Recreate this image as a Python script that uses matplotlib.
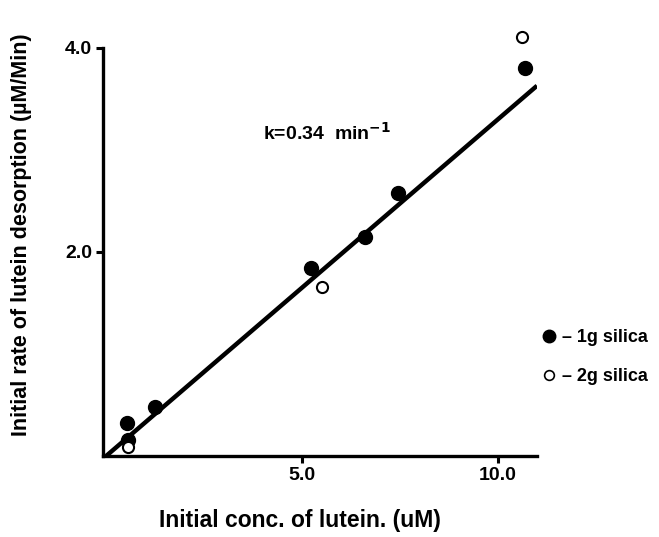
import matplotlib
matplotlib.use("Agg")
import matplotlib.pyplot as plt
import numpy as np
from matplotlib.lines import Line2D

plt.rcParams['font.family'] = ['Liberation Sans', 'DejaVu Sans']
plt.rcParams['font.weight'] = 'bold'

# data
x_1g = [0.54, 0.56, 1.25, 5.23, 6.61, 7.45, 10.69]
y_1g = [0.32, 0.16, 0.48, 1.84, 2.15, 2.58, 3.80]
x_2g = [0.56, 5.51, 10.61]
y_2g = [0.09, 1.66, 4.11]
fit_x = [0.0, 11.0]
k = 0.33
xticks = [5.0, 10.0]
yticks = [2.0, 4.0]

W, H = 659, 537
fig = plt.figure(figsize=(W/100, H/100), dpi=100)
AX_L, AX_R, AX_T, AX_B = 103, 537, 48, 456
ax = fig.add_axes([AX_L/W, 1-AX_B/H, (AX_R-AX_L)/W, (AX_B-AX_T)/H])

fx = np.array(fit_x)
ax.plot(fx, k*fx, color='black', lw=3.2, solid_capstyle='butt', zorder=2)
ax.plot(x_1g, y_1g, 'o', color='black', ms=10, zorder=3, clip_on=False)
ax.plot(x_2g, y_2g, 'o', mfc='white', mec='black', mew=1.5, ms=8, zorder=4, clip_on=False)

ax.set_xlim(-0.08, 11.0)
ax.set_ylim(0, 4.0)
ax.set_xticks(xticks)
ax.set_xticklabels([f"{v:.1f}" for v in xticks])
ax.set_yticks(yticks)
ax.set_yticklabels([f"{v:.1f}" for v in yticks])
for s in ['top', 'right']:
    ax.spines[s].set_visible(False)
for s in ['left', 'bottom']:
    ax.spines[s].set_linewidth(2.4)
ax.tick_params(direction='out', length=5, width=2.2, labelsize=14, pad=3)

ax.text(4.0, 3.10, r"k=0.34  min$^{\mathbf{-1}}$", fontsize=14, fontweight='bold')

xl = ax.set_xlabel("Initial conc. of lutein. (uM)", fontsize=16.5, fontweight='bold')
ax.xaxis.set_label_coords((300-AX_L)/(AX_R-AX_L), (AX_B-520)/(AX_B-AX_T))
xl.set_va('center')
yl = ax.set_ylabel("Initial rate of lutein desorption (\u00b5M/Min)", fontsize=15.5, fontweight='bold')
ax.yaxis.set_label_coords((22-AX_L)/(AX_R-AX_L), (AX_B-235)/(AX_B-AX_T))
yl.set_va('center')

handles = [Line2D([], [], marker='o', ls='none', color='black', ms=9),
           Line2D([], [], marker='o', ls='none', mfc='white', mec='black', mew=1.2, ms=7)]
ax.legend(handles, ["\u2013 1g silica", "\u2013 2g silica"], loc='upper left',
          bbox_to_anchor=(535/W, 1-322/H), bbox_transform=fig.transFigure,
          frameon=False, handlelength=0.8, handletextpad=0.3, labelspacing=1.2,
          prop={'size': 13, 'weight': 'bold'}, borderaxespad=0)

fig.savefig("out.png", dpi=100)
